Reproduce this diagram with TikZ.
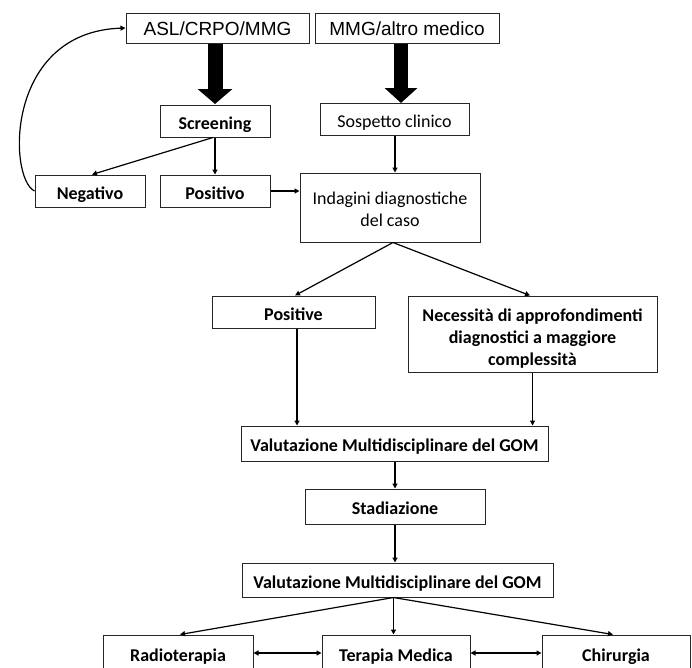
\documentclass[tikz,border=0pt]{standalone}
\usepackage{fontspec}
\setmainfont{Carlito}
\newfontfamily\arialfont{Liberation Sans}
\usetikzlibrary{arrows.meta,calc}

\begin{document}
\begin{tikzpicture}[x=1pt, y=-1pt]
        % Sizes of the pathway diagram, one unit is one point
        \pgfmathsetmacro{\rowh}{32}
        \pgfmathsetmacro{\lowh}{36}

        \tikzset{
            tallbox/.style={draw=black!85, line width=1pt, inner sep=0pt, align=center,
                font=\fontsize{18}{22}\selectfont\bfseries},
            box/.style={tallbox, text height=16.5pt, text depth=0pt},
            plainbox/.style={box, font=\fontsize{18}{22}\selectfont},
            topbox/.style={box, font=\arialfont\fontsize{19}{22}\selectfont, text height=14.6pt, text depth=0pt},
            link/.style={line width=1.2pt, -{Triangle[length=5pt,width=5pt]}},
            bothlink/.style={line width=1.2pt, {Triangle[length=5pt,width=5pt]}-{Triangle[length=5pt,width=5pt]}},
            bigarrow/.style={line width=15pt, -{Triangle[length=15pt,width=34pt]}},
        }

        \useasboundingbox (0,0) rectangle (692,667);

        % Entry points
        \node[topbox, minimum width=183pt, minimum height=30pt] (asl) at (217.5,28) {ASL/CRPO/MMG};
        \node[topbox, minimum width=184pt, minimum height=30pt] (mmg) at (407,28) {MMG/altro medico};

        % Screening branch
        \node[box, minimum width=110pt, minimum height=\rowh pt] (screen) at (215,121) {Screening};
        \node[plainbox, minimum width=149pt, minimum height=\rowh pt] (sospetto) at (394.5,119) {Sospetto clinico};
        \node[box, minimum width=110pt, minimum height=\rowh pt] (neg) at (90,191) {Negativo};
        \node[box, minimum width=110pt, minimum height=\rowh pt] (pos) at (215,191) {Positivo};
        \node[tallbox, font=\fontsize{18}{22}\selectfont, minimum width=180pt, minimum height=69pt] (indagini) at (390,207.5)
            {\rule{0pt}{17pt}Indagini diagnostiche\\del caso};

        % Outcome of the diagnostics
        \node[box, minimum width=163pt, minimum height=\rowh pt] (positive) at (293.5,312) {Positive};
        \node[tallbox, minimum width=249pt, minimum height=76pt] (approf) at (532.5,334)
            {\rule{0pt}{21pt}Necessità di approfondimenti\\diagnostici a maggiore\\complessità};

        % GOM evaluation and staging
        \node[box, minimum width=307pt, minimum height=35pt] (gomA) at (394.5,443.5)
            {Valutazione Multidisciplinare del GOM};
        \node[box, minimum width=180pt, minimum height=35pt] (stad) at (395,506.5) {Stadiazione};
        \node[box, minimum width=311pt, minimum height=34pt] (gomB) at (397.5,580)
            {Valutazione Multidisciplinare del GOM};

        % Treatments, cut by the lower border
        \node[box, minimum width=150pt, minimum height=\lowh pt] (radio) at (178,653) {Radioterapia};
        \node[box, minimum width=148pt, minimum height=\lowh pt] (medica) at (396,653) {Terapia Medica};
        \node[box, minimum width=148pt, minimum height=\lowh pt] (chir) at (616,653) {Chirurgia};

        % Ends of the slanted connectors
        \coordinate (screenOut) at ($(screen.south)+(-2,0)$);
        \coordinate (negIn) at ($(neg.north)+(2,0)$);
        \coordinate (indOut) at ($(indagini.south)+(3,0)$);
        \coordinate (posIn) at ($(positive.north)+(1.5,0)$);
        \coordinate (apprIn) at ($(approf.north)+(-2.5,0)$);
        \coordinate (gomOut) at ($(gomB.south)+(-4,0)$);
        \coordinate (radioIn) at ($(radio.north)+(2,0)$);
        \coordinate (chirIn) at ($(chir.north)+(-3,0)$);

        % Thick arrows from the entry points
        \begin{scope}[black]
            \draw[bigarrow] (asl.south -| 215,0) -- (215,104);
            \draw[line width=14pt, -{Triangle[length=15pt,width=32pt]}] (mmg.south -| 401,0) -- (401,103);
        \end{scope}

        \begin{scope}[black]
            \draw[link] (screenOut) -- (negIn);
            \draw[link] (screen) -- (pos);
            \draw[link] (pos.east) -- (pos.east -| indagini.west);
            \draw[link] (sospetto.south -| 395,0) -- (indagini.north -| 395,0);
            \draw[link] (indOut) -- (posIn);
            \draw[link] (indOut) -- (apprIn);
            \draw[link] (positive.south -| 297,0) -- (gomA.north -| 297,0);
            \draw[link] (approf.south) -- (gomA.north -| approf.south);
            \draw[link] (gomA.south -| 395,0) -- (stad.north -| 395,0);
            \draw[link] (stad.south -| 395,0) -- (gomB.north -| 395,0);
            \draw[link] (gomOut) -- (radioIn);
            \draw[link] (gomOut) -- (medica.north -| gomOut);
            \draw[link] (gomOut) -- (chirIn);
            \draw[bothlink] (radio.east) -- (medica.west);
            \draw[bothlink] (medica.east) -- (chir.west);
            % Negative screening goes back to the start
            \draw[link] (neg.west) .. controls (8,178) and (5,32) .. (asl.west);
        \end{scope}

\end{tikzpicture}
\end{document}
